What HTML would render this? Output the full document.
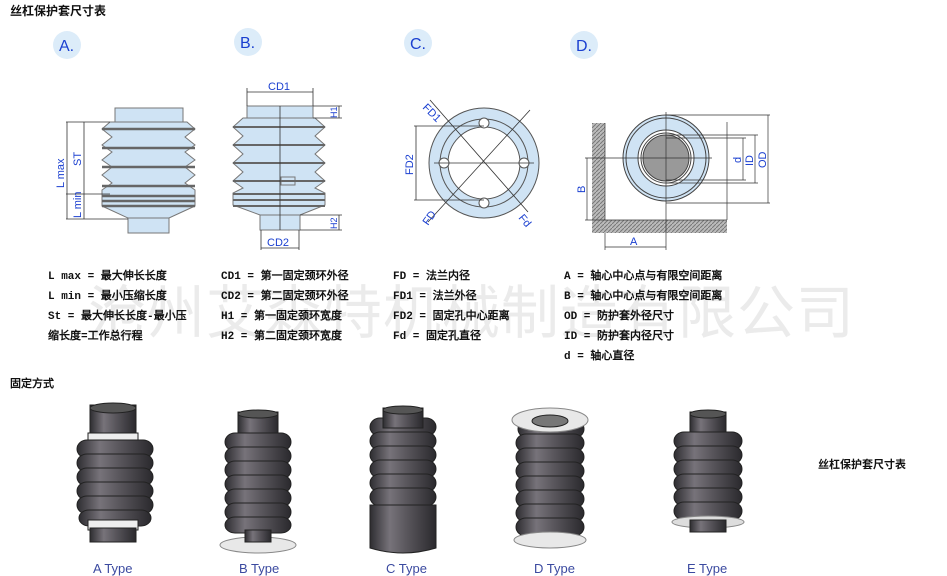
<!DOCTYPE html>
<html><head><meta charset="utf-8"><style>
html,body{margin:0;padding:0;background:#fff;}
body{width:947px;height:576px;position:relative;overflow:hidden;font-family:"Liberation Sans","Noto Sans CJK SC",sans-serif;}
.t{position:absolute;font-size:11px;font-weight:bold;color:#111;white-space:nowrap;font-family:"Liberation Mono","WenQuanYi Zen Hei",monospace;}
.wm{position:absolute;left:88px;top:266px;font-size:58px;color:#ebebeb;letter-spacing:1px;font-family:"Liberation Sans","WenQuanYi Zen Hei",sans-serif;white-space:nowrap;}
.lab{position:absolute;font-size:13px;color:#3b4aa0;}
</style></head><body>
<div class="wm">沧州艾森特机械制造有限公司</div>
<div class="t" style="left:10px;top:2px;font-size:12px;font-family:'Liberation Sans','Noto Sans CJK SC',sans-serif">丝杠保护套尺寸表</div>

<svg width="947" height="576" style="position:absolute;left:0;top:0" xmlns="http://www.w3.org/2000/svg">
<defs>
<linearGradient id="g" x1="0" x2="1"><stop offset="0" stop-color="#2e2d31"/><stop offset="0.3" stop-color="#77737a"/><stop offset="0.55" stop-color="#5a575d"/><stop offset="1" stop-color="#2a292d"/></linearGradient>
<pattern id="h" width="4" height="4" patternUnits="userSpaceOnUse"><rect width="4" height="4" fill="#bbb"/><path d="M0 4L4 0" stroke="#777" stroke-width="1"/></pattern>
</defs>
<g font-family="Liberation Sans" fill="#1a3fd0" font-size="16">
<circle cx="67" cy="45" r="14" fill="#dcecf9"/><text x="59" y="51" fill="#1a3fd0">A.</text>
<circle cx="248" cy="42" r="14" fill="#dcecf9"/><text x="240" y="48" fill="#1a3fd0">B.</text>
<circle cx="418" cy="43" r="14" fill="#dcecf9"/><text x="410" y="49" fill="#1a3fd0">C.</text>
<circle cx="584" cy="45" r="14" fill="#dcecf9"/><text x="576" y="51" fill="#1a3fd0">D.</text>
</g>
<g stroke="#777" stroke-width="1" fill="#cfe3f4">
<rect x="115" y="108" width="68" height="14"/>
<path d="M110 122 L102 129 L112 137 L102 145 L112 152 L102 160 L112 167 L102 175 L112 183 L102 190 L102 196 L102 201 L102 206 L128 218 L169 218 L195 206 L195 190 L185 183 L195 175 L185 167 L195 160 L185 152 L195 145 L185 137 L195 129 L187 122 Z"/>
<rect x="128" y="218" width="41" height="15"/>
</g>
<g stroke="#666" stroke-width="2.5"><line x1="102" y1="129" x2="195" y2="129"/><line x1="102" y1="148" x2="195" y2="148"/><line x1="102" y1="167" x2="195" y2="167"/><line x1="102" y1="186" x2="195" y2="186"/><line x1="102" y1="196" x2="195" y2="196"/><line x1="102" y1="201" x2="195" y2="201"/><line x1="102" y1="206" x2="195" y2="206"/></g>
<g stroke="#333" stroke-width="0.8" fill="none"><line x1="66" y1="122" x2="110" y2="122"/><line x1="66" y1="219" x2="128" y2="219"/><line x1="66" y1="194" x2="110" y2="194"/><line x1="67" y1="122" x2="67" y2="219"/><line x1="84" y1="122" x2="84" y2="194"/><line x1="84" y1="194" x2="84" y2="219"/></g>
<g fill="#1a3fd0" font-family="Liberation Sans" font-size="11">
<text transform="translate(64,188) rotate(-90)">L max</text>
<text transform="translate(81,166) rotate(-90)">ST</text>
<text transform="translate(81,218) rotate(-90)">L min</text>
</g>
<g stroke="#777" stroke-width="1" fill="#cfe3f4">
<rect x="247" y="106" width="66" height="12"/>
<path d="M243 118 L233 127 L243 136 L233 145 L243 154 L233 163 L243 172 L233 181 L243 188 L233 193 L233 199 L233 205 L260 215 L300 215 L325 205 L325 193 L315 188 L325 181 L315 172 L325 163 L315 154 L325 145 L315 136 L325 127 L315 118 Z"/>
<rect x="260" y="215" width="40" height="15"/>
<rect x="281" y="177" width="14" height="8"/>
</g>
<g stroke="#666" stroke-width="2"><line x1="233" y1="127" x2="325" y2="127"/><line x1="233" y1="145" x2="325" y2="145"/><line x1="233" y1="163" x2="325" y2="163"/><line x1="233" y1="181" x2="325" y2="181"/><line x1="233" y1="194" x2="325" y2="194"/><line x1="233" y1="200" x2="325" y2="200"/><line x1="233" y1="206" x2="325" y2="206"/></g>
<g stroke="#333" stroke-width="0.8"><line x1="280" y1="106" x2="280" y2="230"/><line x1="247" y1="92" x2="313" y2="92"/><line x1="247" y1="88" x2="247" y2="106"/><line x1="313" y1="88" x2="313" y2="106"/><line x1="261" y1="248" x2="299" y2="248"/><line x1="261" y1="230" x2="261" y2="250"/><line x1="299" y1="230" x2="299" y2="250"/><line x1="313" y1="106" x2="342" y2="106"/><line x1="313" y1="118" x2="342" y2="118"/><line x1="300" y1="215" x2="342" y2="215"/><line x1="300" y1="230" x2="342" y2="230"/><line x1="339" y1="106" x2="339" y2="118"/><line x1="339" y1="215" x2="339" y2="230"/></g>
<g fill="#1a3fd0" font-family="Liberation Sans" font-size="11">
<text x="268" y="90">CD1</text><text x="267" y="246">CD2</text>
<text transform="translate(337,118) rotate(-90)" font-size="9">H1</text>
<text transform="translate(337,229) rotate(-90)" font-size="9">H2</text>
</g>
<g stroke="#555" stroke-width="1">
<circle cx="484" cy="163" r="55" fill="#cfe3f4"/>
<circle cx="484" cy="163" r="44" fill="none"/>
<circle cx="484" cy="163" r="36" fill="#fff"/>
<circle cx="444" cy="163" r="5" fill="#fff"/><circle cx="524" cy="163" r="5" fill="#fff"/><circle cx="484" cy="123" r="5" fill="#fff"/><circle cx="484" cy="203" r="5" fill="#fff"/>
</g>
<g stroke="#333" stroke-width="0.8"><line x1="430" y1="100" x2="528" y2="212"/><line x1="530" y1="110" x2="428" y2="222"/><line x1="414" y1="126" x2="484" y2="126"/><line x1="414" y1="200" x2="484" y2="200"/><line x1="416" y1="126" x2="416" y2="200"/><line x1="434" y1="163" x2="534" y2="163"/></g>
<g fill="#1a3fd0" font-family="Liberation Sans" font-size="11">
<text transform="translate(422,108) rotate(45)">FD1</text>
<text transform="translate(413,175) rotate(-90)">FD2</text>
<text transform="translate(428,226) rotate(-55)">FD</text>
<text transform="translate(518,218) rotate(50)">Fd</text>
</g>
<rect x="592" y="123" width="13" height="110" fill="url(#h)"/>
<rect x="605" y="220" width="122" height="13" fill="url(#h)"/>
<g stroke="#444" stroke-width="1">
<circle cx="666" cy="158" r="43" fill="#cfe3f4"/>
<circle cx="666" cy="158" r="40" fill="none"/>
<circle cx="666" cy="158" r="28" fill="#fff"/>
<circle cx="666" cy="158" r="25" fill="none"/>
<circle cx="666" cy="158" r="23" fill="#999"/>
</g>
<g stroke="#333" stroke-width="0.7"><line x1="666" y1="112" x2="666" y2="250"/><line x1="585" y1="158" x2="712" y2="158"/><line x1="605" y1="123" x2="605" y2="220"/><line x1="605" y1="220" x2="727" y2="220"/><line x1="727" y1="122" x2="727" y2="220"/><line x1="666" y1="115" x2="770" y2="115"/><line x1="666" y1="203" x2="770" y2="203"/><line x1="768" y1="115" x2="768" y2="203"/><line x1="666" y1="135" x2="758" y2="135"/><line x1="666" y1="183" x2="758" y2="183"/><line x1="755" y1="135" x2="755" y2="183"/><line x1="666" y1="138" x2="746" y2="138"/><line x1="666" y1="180" x2="746" y2="180"/><line x1="743" y1="138" x2="743" y2="180"/><line x1="585" y1="220" x2="605" y2="220"/><line x1="587" y1="158" x2="587" y2="220"/><line x1="605" y1="247" x2="666" y2="247"/><line x1="605" y1="233" x2="605" y2="250"/></g>
<g fill="#1a3fd0" font-family="Liberation Sans" font-size="11">
<text transform="translate(585,193) rotate(-90)">B</text>
<text x="630" y="245">A</text>
<text transform="translate(741,163) rotate(-90)">d</text>
<text transform="translate(753,166) rotate(-90)">ID</text>
<text transform="translate(766,168) rotate(-90)">OD</text>
</g>

<g stroke="#222" stroke-width="1">
<rect x="90" y="405" width="46" height="30" fill="url(#g)"/><ellipse cx="113" cy="408" rx="23" ry="5" fill="#555"/>
<rect x="88" y="433" width="50" height="10" fill="#eee"/>
<rect x="77" y="440" width="76" height="18" rx="10" fill="url(#g)"/><rect x="77" y="454" width="76" height="18" rx="10" fill="url(#g)"/><rect x="77" y="468" width="76" height="18" rx="10" fill="url(#g)"/><rect x="77" y="482" width="76" height="18" rx="10" fill="url(#g)"/><rect x="77" y="496" width="76" height="18" rx="10" fill="url(#g)"/><rect x="79" y="510" width="72" height="16" rx="10" fill="url(#g)"/>
<rect x="88" y="520" width="50" height="10" fill="#eee"/><rect x="90" y="528" width="46" height="14" fill="url(#g)"/>
<ellipse cx="258" cy="545" rx="38" ry="8" fill="#e8e8e8" stroke="#888"/>
<rect x="238" y="412" width="40" height="25" fill="url(#g)"/><ellipse cx="258" cy="414" rx="20" ry="4" fill="#555"/>
<rect x="225" y="433" width="66" height="18" rx="10" fill="url(#g)"/><rect x="225" y="447" width="66" height="18" rx="10" fill="url(#g)"/><rect x="225" y="461" width="66" height="18" rx="10" fill="url(#g)"/><rect x="225" y="475" width="66" height="18" rx="10" fill="url(#g)"/><rect x="225" y="489" width="66" height="18" rx="10" fill="url(#g)"/><rect x="225" y="503" width="66" height="18" rx="10" fill="url(#g)"/><rect x="225" y="517" width="66" height="16" rx="10" fill="url(#g)"/>
<rect x="245" y="530" width="26" height="12" fill="url(#g)"/>
<rect x="370" y="418" width="66" height="18" rx="10" fill="url(#g)"/>
<rect x="383" y="408" width="40" height="20" fill="url(#g)"/><ellipse cx="403" cy="410" rx="20" ry="4" fill="#555"/>
<rect x="370" y="432" width="66" height="18" rx="10" fill="url(#g)"/><rect x="370" y="446" width="66" height="18" rx="10" fill="url(#g)"/><rect x="370" y="460" width="66" height="18" rx="10" fill="url(#g)"/><rect x="370" y="474" width="66" height="18" rx="10" fill="url(#g)"/><rect x="370" y="488" width="66" height="18" rx="10" fill="url(#g)"/>
<path d="M370 505 L436 505 L436 548 Q403 558 370 548 Z" fill="url(#g)"/>
<rect x="518" y="420" width="66" height="18" rx="10" fill="url(#g)"/>
<ellipse cx="550" cy="420" rx="38" ry="12" fill="#e8e8e8" stroke="#888"/><ellipse cx="550" cy="421" rx="18" ry="6" fill="#777"/>
<rect x="516" y="434" width="68" height="18" rx="10" fill="url(#g)"/><rect x="516" y="448" width="68" height="18" rx="10" fill="url(#g)"/><rect x="516" y="462" width="68" height="18" rx="10" fill="url(#g)"/><rect x="516" y="476" width="68" height="18" rx="10" fill="url(#g)"/><rect x="516" y="490" width="68" height="18" rx="10" fill="url(#g)"/><rect x="516" y="504" width="68" height="18" rx="10" fill="url(#g)"/><rect x="516" y="518" width="68" height="18" rx="10" fill="url(#g)"/>
<ellipse cx="550" cy="540" rx="36" ry="8" fill="#e8e8e8" stroke="#888"/>
<rect x="690" y="412" width="36" height="25" fill="url(#g)"/><ellipse cx="708" cy="414" rx="18" ry="4" fill="#555"/>
<rect x="674" y="432" width="68" height="18" rx="10" fill="url(#g)"/><rect x="674" y="446" width="68" height="18" rx="10" fill="url(#g)"/><rect x="674" y="460" width="68" height="18" rx="10" fill="url(#g)"/><rect x="674" y="474" width="68" height="18" rx="10" fill="url(#g)"/><rect x="674" y="488" width="68" height="18" rx="10" fill="url(#g)"/><rect x="674" y="502" width="68" height="18" rx="10" fill="url(#g)"/>
<ellipse cx="708" cy="522" rx="36" ry="6" fill="#ddd" stroke="#888"/><rect x="690" y="520" width="36" height="12" fill="url(#g)"/>
</g>
</svg>

<div class="t" style="left:48px;top:267px">L max = 最大伸长长度</div>
<div class="t" style="left:48px;top:287px">L min = 最小压缩长度</div>
<div class="t" style="left:48px;top:307px">St = 最大伸长长度-最小压</div>
<div class="t" style="left:48px;top:327px">缩长度=工作总行程</div>
<div class="t" style="left:221px;top:267px">CD1 = 第一固定颈环外径</div>
<div class="t" style="left:221px;top:287px">CD2 = 第二固定颈环外径</div>
<div class="t" style="left:221px;top:307px">H1 = 第一固定颈环宽度</div>
<div class="t" style="left:221px;top:327px">H2 = 第二固定颈环宽度</div>
<div class="t" style="left:393px;top:267px">FD = 法兰内径</div>
<div class="t" style="left:393px;top:287px">FD1 = 法兰外径</div>
<div class="t" style="left:393px;top:307px">FD2 = 固定孔中心距离</div>
<div class="t" style="left:393px;top:327px">Fd = 固定孔直径</div>
<div class="t" style="left:564px;top:267px">A = 轴心中心点与有限空间距离</div>
<div class="t" style="left:564px;top:287px">B = 轴心中心点与有限空间距离</div>
<div class="t" style="left:564px;top:307px">OD = 防护套外径尺寸</div>
<div class="t" style="left:564px;top:327px">ID = 防护套内径尺寸</div>
<div class="t" style="left:564px;top:347px">d = 轴心直径</div>
<div class="t" style="left:10px;top:375px">固定方式</div>
<div class="t" style="left:818px;top:456px;font-family:'Liberation Sans','Noto Sans CJK SC',sans-serif">丝杠保护套尺寸表</div>

<div class="lab" style="left:93px;top:561px">A Type</div>
<div class="lab" style="left:239px;top:561px">B Type</div>
<div class="lab" style="left:386px;top:561px">C Type</div>
<div class="lab" style="left:534px;top:561px">D Type</div>
<div class="lab" style="left:687px;top:561px">E Type</div>
</body></html>
